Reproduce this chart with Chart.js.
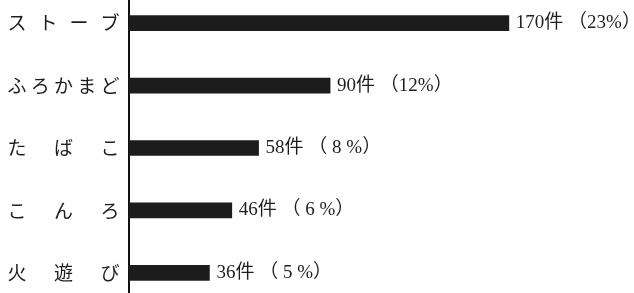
<!DOCTYPE html>
<html>
<head>
<meta charset="utf-8">
<script src="https://cdn.jsdelivr.net/npm/chart.js@4"></script>
<style>
  html, body { margin: 0; padding: 0; background: #fff; overflow: hidden; }
  #wrap { position: absolute; left: 0; top: -8px; width: 634px; height: 312px; }
</style>
</head>
<body>
<div id="wrap"><canvas id="fireChart"></canvas></div>
<script>
// 出火原因別の件数
const causes = ['ストーブ', 'ふろかまど', 'たばこ', 'こんろ', '火遊び'];
const counts = [170, 90, 58, 46, 36];
const percents = [23, 12, 8, 6, 5];

function pctText(p) {
  // 一桁は前後に空きを入れる（原図の組み方）
  return p < 10 ? ' （ ' + p + ' %）' : ' （' + p + '%）';
}

// 左の項目名を均等割りで描く
const spacedLabels = {
  id: 'spacedLabels',
  afterDraw(chart) {
    const ctx = chart.ctx;
    const y = chart.scales.y;
    ctx.save();
    ctx.fillStyle = '#1e1e1e';
    ctx.font = '19px "Noto Sans CJK JP"';
    ctx.textAlign = 'center';
    ctx.textBaseline = 'middle';
    causes.forEach((name, i) => {
      const py = y.getPixelForValue(i);
      const chars = Array.from(name);
      const x0 = 17, x1 = 110;
      chars.forEach((c, j) => {
        const px = chars.length > 1 ? x0 + (x1 - x0) * j / (chars.length - 1) : x0;
        ctx.fillText(c, px, py);
      });
    });
    ctx.restore();
  }
};

// バーの右に件数と割合
const valueLabels = {
  id: 'valueLabels',
  afterDatasetsDraw(chart) {
    const ctx = chart.ctx;
    const meta = chart.getDatasetMeta(0);
    ctx.save();
    ctx.fillStyle = '#1e1e1e';
    ctx.font = '19px "Liberation Serif", "Noto Sans CJK JP"';
    ctx.textAlign = 'left';
    ctx.textBaseline = 'middle';
    meta.data.forEach((bar, i) => {
      ctx.fillText(counts[i] + '件' + pctText(percents[i]), bar.x + 7, bar.y);
    });
    ctx.restore();
  }
};

new Chart(document.getElementById('fireChart'), {
  type: 'bar',
  data: {
    labels: causes,
    datasets: [{
      data: counts,
      backgroundColor: '#1c1c1c',
      borderWidth: 0,
      barThickness: 15
    }]
  },
  options: {
    indexAxis: 'y',
    responsive: true,
    maintainAspectRatio: false,
    animation: false,
    layout: { padding: { left: 129, right: 0, top: 0, bottom: 0 } },
    plugins: {
      legend: { display: false },
      tooltip: { enabled: false }
    },
    scales: {
      x: {
        display: false,
        min: 0,
        max: 226
      },
      y: {
        display: true,
        ticks: { display: false },
        grid: { display: false, drawTicks: false },
        border: { display: true, color: '#111', width: 2 }
      }
    }
  },
  plugins: [spacedLabels, valueLabels]
});
</script>
</body>
</html>
